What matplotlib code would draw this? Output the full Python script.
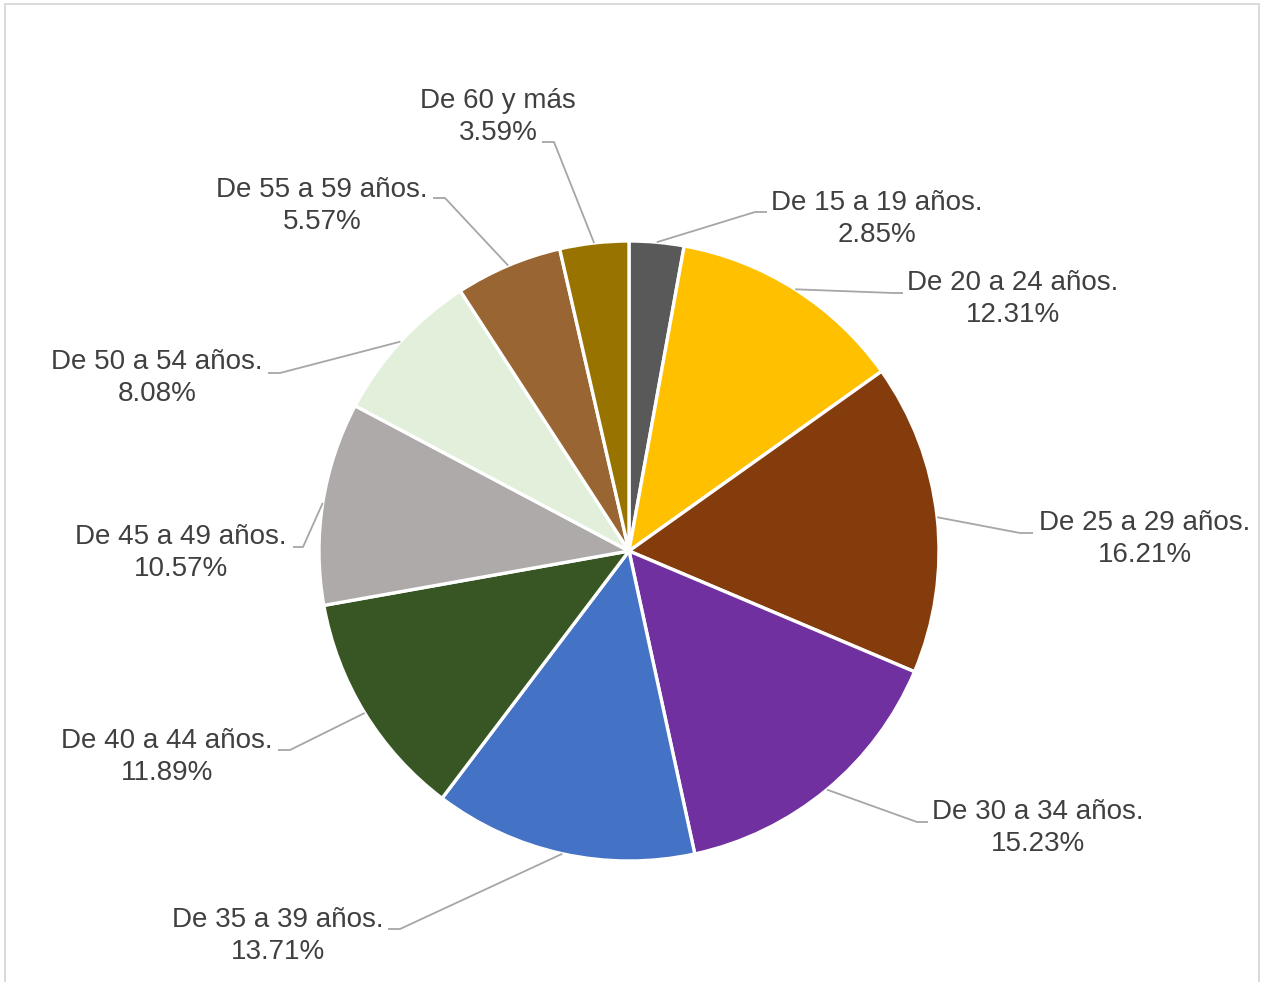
import numpy as np
import matplotlib.pyplot as plt
from matplotlib.patches import Rectangle

# datos
grupos = ["De 15 a 19 años.", "De 20 a 24 años.", "De 25 a 29 años.", "De 30 a 34 años.",
          "De 35 a 39 años.", "De 40 a 44 años.", "De 45 a 49 años.", "De 50 a 54 años.",
          "De 55 a 59 años.", "De 60 y más"]
porcentajes = [2.85, 12.31, 16.21, 15.23, 13.71, 11.89, 10.57, 8.08, 5.57, 3.59]
colores = ["#595959", "#FFC000", "#843C0C", "#7030A0", "#4472C4",
           "#375623", "#AEAAAA", "#E2EFDA", "#996633", "#997300"]

W, H = 1261, 982
cx, cy, R = 629, 551, 310

# posiciones de las etiquetas (pixeles): centro del texto, codo y fin de la guia
texto_pos = [(877, 219), (1013, 299), (1145, 539), (1038, 828), (278, 936),
             (167, 757), (181, 553), (157, 378), (322, 206), (498, 117)]
codo = [(755, 212), (893, 293), (1020, 533), (917, 822), (400, 929),
        (290, 750), (303, 547), (280, 373), (445, 198), (554, 142)]
fin = [(767, 212), (903, 293), (1033, 533), (928, 822), (388, 929),
       (278, 750), (293, 547), (268, 373), (433, 198), (542, 142)]


def px(x, y):
    return x, H - y


fig = plt.figure(figsize=(W / 100, H / 100), dpi=100)
ax = fig.add_axes([0, 0, 1, 1])

wedges, _ = ax.pie(porcentajes, colors=colores, startangle=90, counterclock=False,
                   radius=R, center=px(cx, cy),
                   wedgeprops=dict(edgecolor="white", linewidth=2.4))
ax.set_xlim(0, W)
ax.set_ylim(0, H)
ax.set_aspect("equal")
ax.axis("off")

for i, w in enumerate(wedges):
    ang = np.deg2rad((w.theta1 + w.theta2) / 2)
    x0 = cx + R * np.cos(ang)
    y0 = cy - R * np.sin(ang)
    xs = [x0, codo[i][0], fin[i][0]]
    ys = [H - y0, H - codo[i][1], H - fin[i][1]]
    ax.plot(xs, ys, color="#A6A6A6", lw=1.3, solid_capstyle="butt")
    tx, ty = px(*texto_pos[i])
    ax.text(tx, ty, f"{grupos[i]}\n{porcentajes[i]:.2f}%", ha="center", va="center",
            multialignment="center", fontsize=20, color="#404040", linespacing=1.28,
            family=["Liberation Sans", "DejaVu Sans"])

# borde del grafico
ax.add_patch(Rectangle(px(5, 995), 1254, 991, fill=False, edgecolor="#D9D9D9",
                       lw=1.4, clip_on=False))

fig.savefig("out.png", dpi=100)
